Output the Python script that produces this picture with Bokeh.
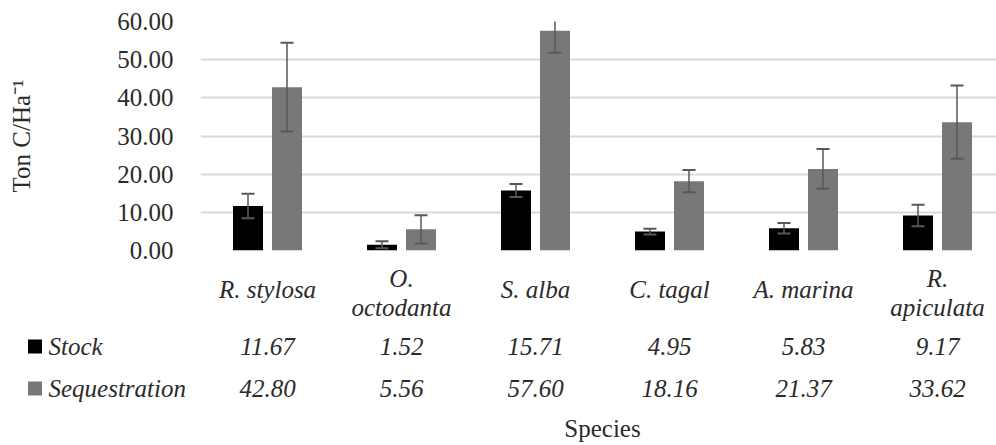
from bokeh.plotting import figure
from bokeh.models import Range1d, NumeralTickFormatter, FixedTicker
from bokeh.core.properties import value
from bokeh.embed import file_html
from bokeh.resources import INLINE

# ---- data ----
species = ["R. stylosa", "O.\noctodanta", "S. alba", "C. tagal", "A. marina", "R.\napiculata"]
stock = [11.67, 1.52, 15.71, 4.95, 5.83, 9.17]
sequestration = [42.80, 5.56, 57.60, 18.16, 21.37, 33.62]
stock_err = [3.2, 0.9, 1.7, 0.75, 1.4, 2.8]
seq_err = [11.6, 3.7, 5.8, 2.9, 5.2, 9.6]
series_names = ["Stock", "Sequestration"]
y_ticks = [0, 10, 20, 30, 40, 50, 60]
y_title = "Ton C/Ha\u207b\u00b9"
x_title = "Species"

# ---- layout / style constants ----
FONT = value("Liberation Serif")
TXT = "#2b2b2b"
C_STOCK = "#000000"
C_SEQ = "#7a7777"
C_ERR = "#585858"
CAT_PX = 134.0
FRAME_LEFT = 200
W = 996
FRAME_W = W - FRAME_LEFT
FRAME_TOP = 21
FRAME_H = 229
TOP_H = 264
BOT_H = 445 - TOP_H
FS = "25px"

n = len(species)
x_end = FRAME_W / CAT_PX
centers = [i + 0.5 for i in range(n)]
off = 19.5 / CAT_PX
bw = 30.0 / CAT_PX
xs_stock = [c - off for c in centers]
xs_seq = [c + off for c in centers]

p = figure(width=W, height=TOP_H, x_range=Range1d(0, x_end), y_range=Range1d(0, 60),
           output_backend="svg", toolbar_location=None,
           min_border_left=FRAME_LEFT, min_border_right=0, min_border_top=FRAME_TOP,
           min_border_bottom=TOP_H - FRAME_TOP - FRAME_H)
p.outline_line_color = None
p.xaxis.visible = False
p.xgrid.visible = False
p.ygrid.grid_line_color = "#d9d9d9"
p.ygrid.grid_line_width = 2
p.yaxis.ticker = FixedTicker(ticks=y_ticks)
p.yaxis.formatter = NumeralTickFormatter(format="0.00")
p.yaxis.axis_line_color = None
p.yaxis.major_tick_line_color = None
p.yaxis.minor_tick_line_color = None
p.yaxis.major_label_standoff = 21
p.yaxis.major_label_text_font = "Liberation Serif"
p.yaxis.major_label_text_font_size = FS
p.yaxis.major_label_text_color = TXT
p.yaxis.axis_label = y_title
p.yaxis.axis_label_text_font = "Liberation Serif"
p.yaxis.axis_label_text_font_style = "normal"
p.yaxis.axis_label_text_font_size = FS
p.yaxis.axis_label_text_color = TXT
p.yaxis.axis_label_standoff = 79

p.vbar(x=xs_stock, top=stock, width=bw, fill_color=C_STOCK, line_color=None)
p.vbar(x=xs_seq, top=sequestration, width=bw, fill_color=C_SEQ, line_color=None)

for xs, vals, errs in ((xs_stock, stock, stock_err), (xs_seq, sequestration, seq_err)):
    hi = [v + e for v, e in zip(vals, errs)]
    lo = [v - e for v, e in zip(vals, errs)]
    p.segment(x0=xs, y0=lo, x1=xs, y1=hi, line_color=C_ERR, line_width=1.5)
    p.scatter(x=xs, y=hi, marker="dash", size=13, line_color=C_ERR, line_width=2)
    p.scatter(x=xs, y=lo, marker="dash", size=13, line_color=C_ERR, line_width=2)

# split category names into lines
line1_x, line1_t, line2_x, line2_t, single_x, single_t = [], [], [], [], [], []
for c, s in zip(centers, species):
    parts = s.split("\n")
    if len(parts) == 2:
        line1_x.append(c); line1_t.append(parts[0])
        line2_x.append(c); line2_t.append(parts[1])
    else:
        single_x.append(c); single_t.append(s)

# ---- data table below (separate root) ----
t = figure(width=W, height=BOT_H, x_range=Range1d(-FRAME_LEFT / CAT_PX, x_end),
           y_range=Range1d(BOT_H, 0), output_backend="svg", toolbar_location=None,
           min_border_left=0, min_border_right=0, min_border_top=0, min_border_bottom=0)
t.outline_line_color = None
t.axis.visible = False
t.grid.visible = False

ROW_LINE1 = 278 - TOP_H
ROW_SINGLE = 289 - TOP_H
ROW_LINE2 = 307 - TOP_H
ROW_STOCK = 346 - TOP_H
ROW_SEQ = 388 - TOP_H
ROW_TITLE = 428 - TOP_H
ital = dict(text_font=FONT, text_font_style="italic", text_font_size=FS, text_color=TXT,
            text_align="center", text_baseline="middle")
t.text(x=line1_x, y=[ROW_LINE1] * len(line1_x), text=line1_t, **ital)
t.text(x=single_x, y=[ROW_SINGLE] * len(single_x), text=single_t, **ital)
t.text(x=line2_x, y=[ROW_LINE2] * len(line2_x), text=line2_t, **ital)
t.text(x=centers, y=[ROW_STOCK] * n, text=[f"{v:.2f}" for v in stock], **ital)
t.text(x=centers, y=[ROW_SEQ] * n, text=[f"{v:.2f}" for v in sequestration], **ital)

sq_x = (34.5 - FRAME_LEFT) / CAT_PX
name_x = (48 - FRAME_LEFT) / CAT_PX
t.rect(x=[sq_x, sq_x], y=[ROW_STOCK, ROW_SEQ], width=14, height=14, width_units="screen",
       height_units="screen", fill_color=[C_STOCK, C_SEQ], line_color=None)
t.text(x=[name_x, name_x], y=[ROW_STOCK, ROW_SEQ], text=series_names, text_font=FONT,
       text_font_style="italic", text_font_size=FS, text_color=TXT, text_align="left",
       text_baseline="middle")
t.text(x=[n / 2], y=[ROW_TITLE], text=[x_title], text_font=FONT, text_font_size=FS,
       text_color=TXT, text_align="center", text_baseline="middle")

open("out.html", "w").write(file_html([p, t], INLINE))
